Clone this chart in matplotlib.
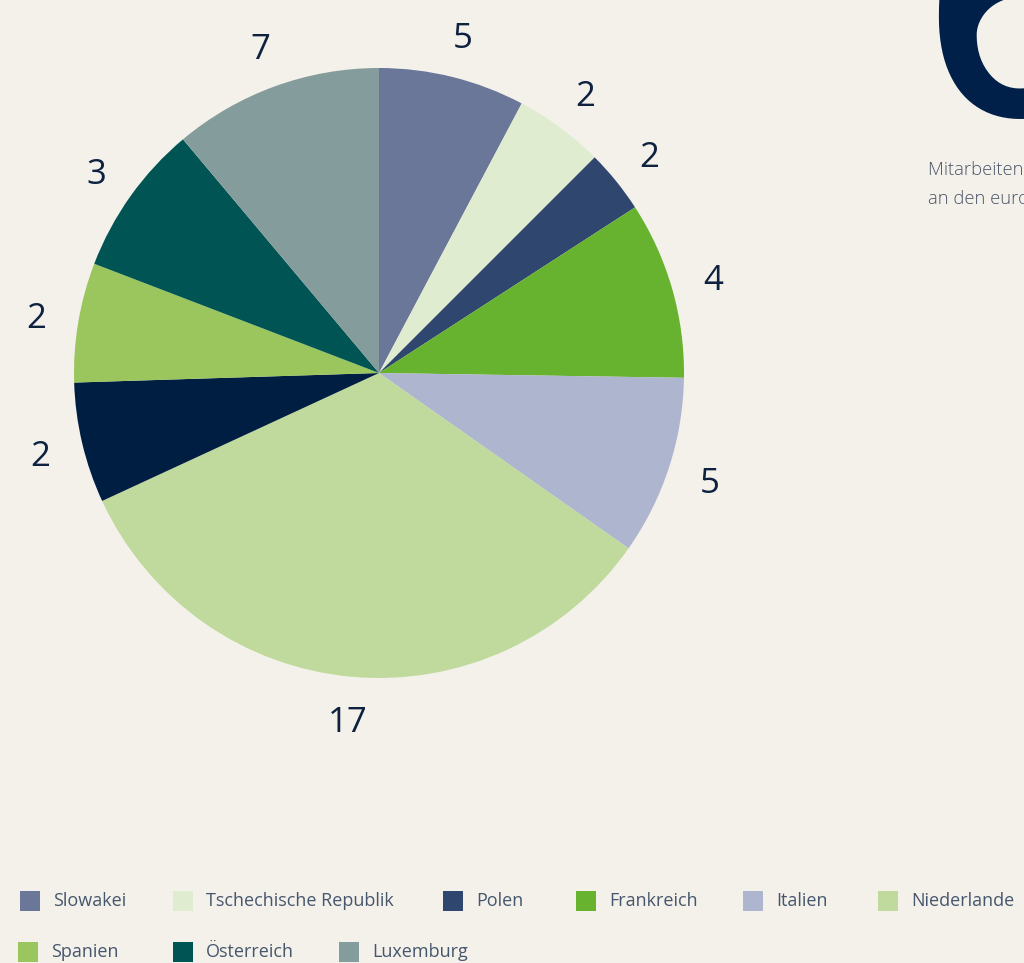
import matplotlib
matplotlib.use("Agg")
import matplotlib.pyplot as plt
import matplotlib.patches as mpatches
import numpy as np

# ---- data ----
countries = ["Slowakei", "Tschechische Republik", "Polen", "Frankreich", "Italien",
             "Niederlande", "Belgien", "Spanien", "Österreich", "Luxemburg"]
shares = [7.75, 4.75, 3.36, 9.39, 9.50, 33.36, 6.39, 6.33, 8.06, 11.11]
value_labels = ["5", "2", "2", "4", "5", "17", "2", "2", "3", "7"]
colors = ["#6A7799", "#DFECD0", "#2F476E", "#67B22F", "#AEB5CF",
          "#BFDA9C", "#001E42", "#9AC65D", "#005453", "#859C9C"]

BG = "#F4F1EB"
W, H = 1024, 963
fig = plt.figure(figsize=(W / 100, H / 100), dpi=100, facecolor=BG)
plt.rcParams['font.family'] = ['Open Sans', 'DejaVu Sans']

# pie axes: center (379,373) px, radius 305 px
cx, cy, r = 379, 373, 305
ax = fig.add_axes([(cx - r) / W, 1 - (cy + r) / H, 2 * r / W, 2 * r / H])
ax.set_facecolor("none")
wedges, _ = ax.pie(shares, colors=colors, startangle=90, counterclock=False,
                   radius=1, wedgeprops=dict(linewidth=0))
ax.set_xlim(-1, 1)
ax.set_ylim(-1, 1)
ax.set_aspect("equal")
ax.axis("off")

for w, lab in zip(wedges, value_labels):
    ang = np.deg2rad((w.theta1 + w.theta2) / 2)
    d = 1.14
    ax.text(d * np.cos(ang), d * np.sin(ang) - 0.012, lab, ha="center", va="center",
            fontsize=25, color="#0E2240", clip_on=False)

# big number top right (cut off)
fig.text(923 / W, 1 - 116 / H, "6", fontsize=234, fontweight="semibold",
         color="#00204A", ha="left", va="baseline")
fig.text(928 / W, 1 - 170 / H, "Mitarbeitende in Europa", fontsize=13.2,
         fontweight="light", color="#4A5568", ha="left", va="center")
fig.text(928 / W, 1 - 199 / H, "an den europäischen Standorten", fontsize=13.2,
         fontweight="light", color="#4A5568", ha="left", va="center")

# manual legend
legend_pos = [(20, 901), (173, 901), (443, 901), (576, 901), (743, 901),
              (878, 901), (1060, 901), (18, 952), (173, 952), (339, 952)]
sq = 20
for (x, y), name, c in zip(legend_pos, countries, colors):
    fig.patches.append(mpatches.Rectangle((x / W, 1 - (y + sq / 2) / H), sq / W, sq / H,
                                          transform=fig.transFigure, facecolor=c,
                                          edgecolor="none"))
    fig.text((x + 33) / W, 1 - y / H, name, fontsize=13, color="#46566C",
             ha="left", va="center")

fig.savefig("out.png", dpi=100, facecolor=BG)
